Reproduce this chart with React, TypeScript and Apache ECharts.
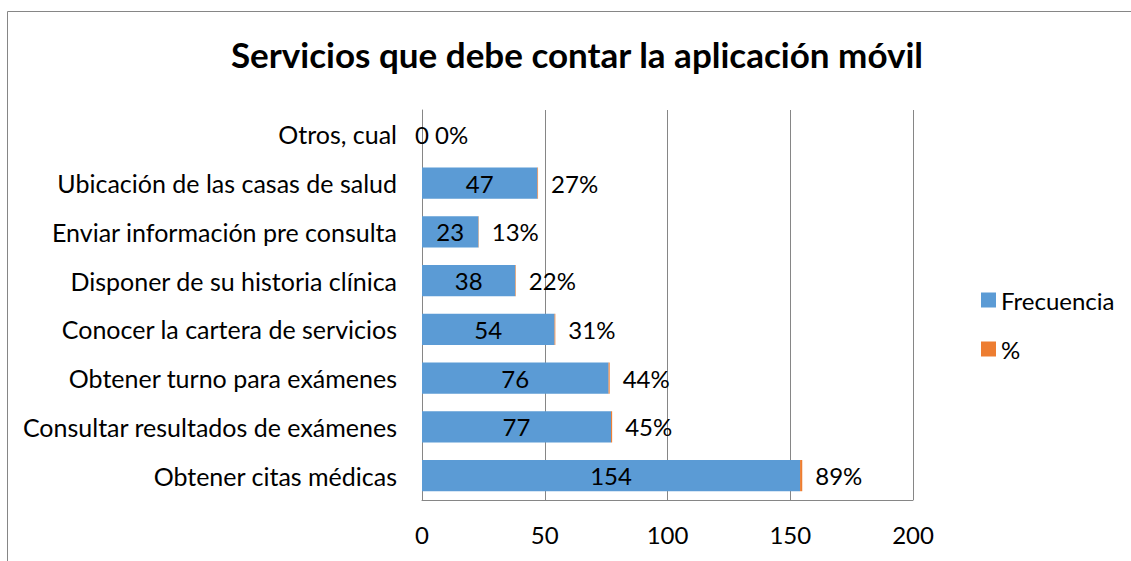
import React, { useEffect, useRef } from "react";
import * as echarts from "echarts";

const categories = [
  "Obtener citas médicas",
  "Consultar resultados de exámenes",
  "Obtener turno para exámenes",
  "Conocer la cartera de servicios",
  "Disponer de su historia clínica",
  "Enviar información pre consulta",
  "Ubicación de las casas de salud",
  "Otros, cual",
];
const frecuencia = [154, 77, 76, 54, 38, 23, 47, 0];
const porcentaje = [0.89, 0.45, 0.44, 0.31, 0.22, 0.13, 0.27, 0];
const xTicks = [0, 50, 100, 150, 200];

const FONT = "Lato, 'Open Sans', sans-serif";
const FS = 24;

export default function App() {
  const ref = useRef<HTMLDivElement>(null);
  useEffect(() => {
    if (!ref.current) return;
    const chart = echarts.init(ref.current, null, { renderer: "svg" });
    chart.setOption({
      animation: false,
      textStyle: { fontFamily: FONT, color: "#000" },
      title: {
        text: "Servicios que debe contar la aplicación móvil",
        left: 572,
        top: 31,
        textAlign: "center",
        textStyle: { fontFamily: FONT, fontSize: 35, fontWeight: "bold", color: "#000" },
      },
      graphic: [
        {
          type: "rect",
          shape: { x: 7.5, y: 11.5, width: 1140, height: 600 },
          style: { fill: "none", stroke: "#868686", lineWidth: 1 },
          silent: true,
        },
      ],
      legend: {
        orient: "vertical",
        left: 976,
        top: 283,
        itemWidth: 15,
        itemHeight: 15,
        itemGap: 25,
        icon: "rect",
        textStyle: { fontFamily: FONT, fontSize: FS, color: "#000", padding: [0, 0, 0, 0] },
        data: ["Frecuencia", "%"],
      },
      grid: { left: 422, top: 110, width: 491, height: 390, containLabel: false },
      xAxis: {
        type: "value",
        min: 0,
        max: 200,
        interval: 50,
        axisLine: { show: true, lineStyle: { color: "#868686" } },
        axisTick: { show: false },
        splitLine: { show: true, lineStyle: { color: "#868686" } },
        axisLabel: {
          fontFamily: FONT,
          fontSize: FS,
          color: "#000",
          margin: 22,
          formatter: (v: number) => (xTicks.includes(v) ? String(v) : ""),
        },
      },
      yAxis: {
        type: "category",
        data: categories,
        axisLine: { show: true, lineStyle: { color: "#868686" } },
        axisTick: { show: false },
        axisLabel: { fontFamily: FONT, fontSize: 25, color: "#000", margin: 25 },
      },
      series: [
        {
          name: "Frecuencia",
          type: "bar",
          stack: "total",
          barWidth: "64%",
          itemStyle: { color: "#5B9BD5" },
          label: {
            show: true,
            position: "inside",
            fontFamily: FONT,
            fontSize: FS,
            color: "#000",
          },
          data: frecuencia,
        },
        {
          name: "%",
          type: "bar",
          stack: "total",
          barWidth: "64%",
          itemStyle: { color: "#ED7D31" },
          label: {
            show: true,
            position: "right",
            distance: 13,
            fontFamily: FONT,
            fontSize: FS,
            color: "#000",
            formatter: (p: any) => Math.round(p.value * 100) + "%",
          },
          data: porcentaje,
        },
      ],
    });
    return () => chart.dispose();
  }, []);
  return (
    <div
      ref={ref}
      style={{ position: "fixed", left: 0, top: 0, width: 1131, height: 561, background: "#fff" }}
    />
  );
}
